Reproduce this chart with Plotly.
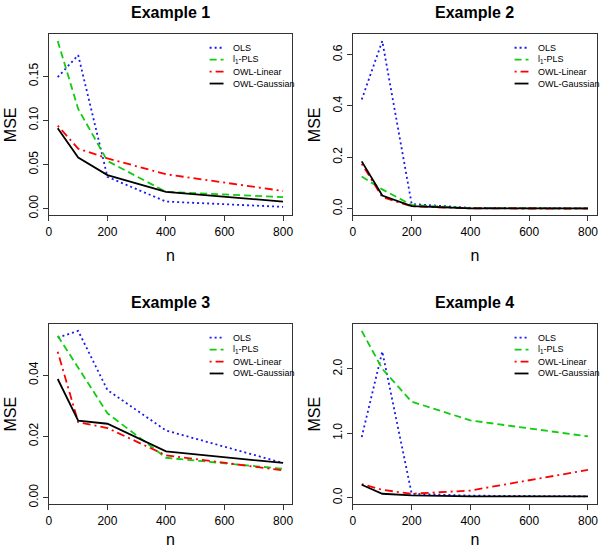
import plotly.graph_objects as go

# ---------------- data ----------------
n = [30, 100, 200, 400, 800]
methods = ["OLS", "l<sub>1</sub>-PLS", "OWL-Linear", "OWL-Gaussian"]
titles = ["Example 1", "Example 2", "Example 3", "Example 4"]

ex1_ols = [0.149, 0.174, 0.036, 0.008, 0.002]
ex1_l1pls = [0.190, 0.113, 0.054, 0.019, 0.013]
ex1_owl_lin = [0.094, 0.068, 0.057, 0.039, 0.020]
ex1_owl_gau = [0.091, 0.058, 0.038, 0.019, 0.008]

ex2_ols = [0.425, 0.653, 0.018, 0.003, 0.001]
ex2_l1pls = [0.125, 0.075, 0.014, 0.002, 0.001]
ex2_owl_lin = [0.175, 0.045, 0.009, 0.001, 0.000]
ex2_owl_gau = [0.184, 0.051, 0.010, 0.001, 0.001]

ex3_ols = [0.0522, 0.0544, 0.0351, 0.0219, 0.0113]
ex3_l1pls = [0.0528, 0.0425, 0.0275, 0.0130, 0.0094]
ex3_owl_lin = [0.0476, 0.0246, 0.0227, 0.0138, 0.0089]
ex3_owl_gau = [0.0387, 0.0251, 0.0241, 0.0151, 0.0113]

ex4_ols = [0.94, 2.27, 0.06, 0.03, 0.02]
ex4_l1pls = [2.59, 2.00, 1.49, 1.20, 0.95]
ex4_owl_lin = [0.21, 0.12, 0.06, 0.11, 0.43]
ex4_owl_gau = [0.20, 0.06, 0.035, 0.02, 0.02]

x_ticks = [0, 200, 400, 600, 800]
y_ticks = [[0.00, 0.05, 0.10, 0.15], [0.0, 0.2, 0.4, 0.6],
           [0.00, 0.02, 0.04], [0.0, 1.0, 2.0]]
y_fmt = [".2f", ".1f", ".2f", ".1f"]

panels = [
    [ex1_ols, ex1_l1pls, ex1_owl_lin, ex1_owl_gau],
    [ex2_ols, ex2_l1pls, ex2_owl_lin, ex2_owl_gau],
    [ex3_ols, ex3_l1pls, ex3_owl_lin, ex3_owl_gau],
    [ex4_ols, ex4_l1pls, ex4_owl_lin, ex4_owl_gau],
]

# ---------------- styles ----------------
colors = ["#1a1aee", "#11cc11", "#ff0000", "#000000"]
dashes = ["2px,3px", "7px,4px", "2px,4px,8px,4px", "solid"]
widths = [1.8, 1.8, 1.8, 1.8]
FONT = "Liberation Sans, Arial, Helvetica, sans-serif"

W, H = 603, 557
# plot boxes in pixels: left, right, top, bottom
boxes = [(46, 291, 34.5, 216.5), (352, 598, 34.5, 216.5),
         (46, 291, 326, 507), (352, 598, 326, 507)]
x_title_standoff = [12, 12, 7, 7]


def r_range(lo, hi):
    d = hi - lo
    return [lo - 0.04 * d, hi + 0.04 * d]


fig = go.Figure()
layout = dict(
    width=W, height=H, margin=dict(l=0, r=0, t=0, b=0),
    paper_bgcolor="white", plot_bgcolor="white", showlegend=False,
    font=dict(family=FONT, color="black", size=12),
)
annotations = []
shapes = []

for i, (series, box) in enumerate(zip(panels, boxes)):
    k = "" if i == 0 else str(i + 1)
    xa, ya = "x" + k, "y" + k
    L, R, T, B = box
    for s, name, c, d, w in zip(series, methods, colors, dashes, widths):
        fig.add_trace(go.Scatter(x=n, y=s, mode="lines", name=name,
                                 line=dict(color=c, dash=d, width=w),
                                 xaxis=xa, yaxis=ya))
    ymax = max(max(s) for s in series)
    common = dict(showline=True, linecolor="#333333", linewidth=1, mirror=True,
                  ticks="outside", ticklen=5, tickwidth=1, tickcolor="#333333",
                  showgrid=False, zeroline=False,
                  tickfont=dict(size=12, family=FONT, color="black"))
    layout["xaxis" + k] = dict(
        domain=[L / W, R / W], anchor=ya,
        range=r_range(min(n), max(n)), tickvals=x_ticks,
        title=dict(text="n", font=dict(size=16, family=FONT),
                   standoff=x_title_standoff[i]),
        **common)
    layout["yaxis" + k] = dict(
        domain=[1 - B / H, 1 - T / H], anchor=xa,
        range=r_range(0, ymax), tickvals=y_ticks[i], tickformat=y_fmt[i],
        tickangle=-90,
        title=dict(text="MSE", font=dict(size=16, family=FONT), standoff=6),
        **common)
    # panel title
    annotations.append(dict(
        text="<b>" + titles[i] + "</b>", xref="paper", yref="paper",
        x=(L + R) / 2 / W, y=1 - (T - 21.5) / H, xanchor="center", yanchor="middle",
        showarrow=False, font=dict(size=16, family=FONT, color="black")))
    # legend (top-right, no box)
    pw, ph = R - L, B - T
    for j, (name, c, d, w) in enumerate(zip(methods, colors, dashes, widths)):
        yy = 1 - (13.5 + 12 * j) / ph
        shapes.append(dict(type="line", xref=xa + " domain", yref=ya + " domain",
                           x0=1 - 83 / pw, x1=1 - 69 / pw, y0=yy, y1=yy,
                           line=dict(color=c, dash=d, width=w)))
        annotations.append(dict(text=name, xref=xa + " domain", yref=ya + " domain",
                                x=1 - 61 / pw, y=yy, xanchor="left", yanchor="middle",
                                showarrow=False,
                                font=dict(size=9, family=FONT, color="black")))

layout["annotations"] = annotations
layout["shapes"] = shapes
fig.update_layout(**layout)
fig.write_html("out.html",
               config={"displayModeBar": False},
               post_script="document.body.style.margin='0';document.body.style.overflow='hidden';")
